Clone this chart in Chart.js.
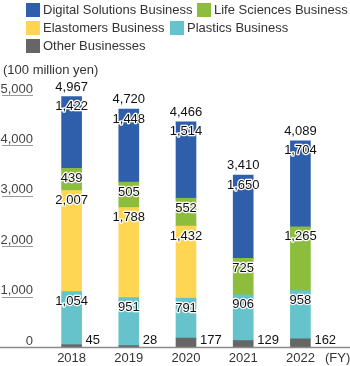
<!DOCTYPE html>
<html>
<head>
<meta charset="utf-8">
<script src="https://cdn.jsdelivr.net/npm/chart.js@4"></script>
<style>
  html, body { margin: 0; padding: 0; background: #fff; }
  #wrap { position: relative; width: 350px; height: 366px; font-family: "Liberation Sans", Arial, sans-serif; }
  #chart { position: absolute; left: 0; top: 0; }
  .leg { position: absolute; font-size: 13px; color: #333; line-height: 14px; white-space: nowrap; }
  .leg i { position: absolute; left: 0; top: 0; width: 14px; height: 14px; }
  .leg span { position: absolute; left: 17px; top: 0; }
  #unit { position: absolute; left: 3px; top: 62px; font-size: 13px; color: #333; }
</style>
</head>
<body>
<div id="wrap">
  <canvas id="chart" width="350" height="366"></canvas>
  <div id="legend"></div>
  <div id="unit">(100 million yen)</div>
</div>
<script>
// Данные
const years = ['2018', '2019', '2020', '2021', '2022'];
const digital = [1422, 1448, 1514, 1650, 1704];
const lifeSciences = [439, 505, 552, 725, 1265];
const elastomers = [2007, 1788, 1432, null, null];
const plastics = [1054, 951, 791, 906, 958];
const other = [45, 28, 177, 129, 162];
const totals = [4967, 4720, 4466, 3410, 4089];
const yTicks = [0, 1000, 2000, 3000, 4000, 5000];

const colors = {
    digital: '#2f5faa',
    life: '#8cbd3c',
    elastomers: '#ffd654',
    plastics: '#66c2cb',
    other: '#666666'
};

// Легенда (позиции как на картинке)
const legendItems = [
    { label: 'Digital Solutions Business', color: colors.digital, x: 26, y: 3 },
    { label: 'Life Sciences Business', color: colors.life, x: 197, y: 3 },
    { label: 'Elastomers Business', color: colors.elastomers, x: 26, y: 21 },
    { label: 'Plastics Business', color: colors.plastics, x: 170, y: 21 },
    { label: 'Other Businesses', color: colors.other, x: 26, y: 39 }
];
const legendEl = document.getElementById('legend');
legendItems.forEach(item => {
    const d = document.createElement('div');
    d.className = 'leg';
    d.style.left = item.x + 'px';
    d.style.top = item.y + 'px';
    d.innerHTML = '<i style="background:' + item.color + '"></i><span>' + item.label + '</span>';
    legendEl.appendChild(d);
});

const fmt = v => v.toLocaleString('en-US');
const FONT = '13px "Liberation Sans", Arial, sans-serif';

function haloText(ctx, text, x, y) {
    ctx.lineJoin = 'round';
    ctx.lineWidth = 2.5;
    ctx.strokeStyle = '#ffffff';
    ctx.strokeText(text, x, y);
    ctx.fillStyle = '#111';
    ctx.fillText(text, x, y);
}

const decorPlugin = {
    id: 'decor',
    afterDatasetsDraw(chart) {
        const ctx = chart.ctx;
        const xs = chart.scales.x;
        const ys = chart.scales.y;
        ctx.save();
        ctx.font = FONT;
        ctx.textBaseline = 'middle';

        // Ось Y: подписи с подчёркиванием
        yTicks.forEach(t => {
            const py = ys.getPixelForValue(t);
            ctx.fillStyle = '#444';
            ctx.textAlign = 'right';
            ctx.fillText(fmt(t), 33, py - 6);
            if (t > 0) {
                ctx.strokeStyle = '#9a9a9a';
                ctx.lineWidth = 1;
                ctx.beginPath();
                ctx.moveTo(2, Math.round(py) + 0.5);
                ctx.lineTo(33, Math.round(py) + 0.5);
                ctx.stroke();
            }
        });

        // Базовая линия
        const py0 = ys.getPixelForValue(0);
        ctx.strokeStyle = '#8a8a8a';
        ctx.lineWidth = 1.5;
        ctx.beginPath();
        ctx.moveTo(0, py0 + 0.5);
        ctx.lineTo(350, py0 + 0.5);
        ctx.stroke();

        // Подписи оси X
        ctx.fillStyle = '#333';
        ctx.textAlign = 'center';
        years.forEach((y, i) => {
            ctx.fillText(y, xs.getPixelForValue(i), 358);
        });
        ctx.textAlign = 'left';
        ctx.fillText('(FY)', 325, 358);

        // Подписи значений
        ctx.textAlign = 'center';
        chart.data.datasets.forEach((ds, di) => {
            const meta = chart.getDatasetMeta(di);
            meta.data.forEach((bar, i) => {
                const v = ds.data[i];
                if (v == null) return;
                if (ds.key === 'other') {
                    ctx.textAlign = 'left';
                    haloText(ctx, fmt(v), bar.x + bar.width / 2 + 4, 340);
                    ctx.textAlign = 'center';
                } else {
                    haloText(ctx, fmt(v), bar.x, bar.y + 10);
                }
            });
        });
        // Итоги над столбцами
        totals.forEach((t, i) => {
            haloText(ctx, fmt(t), xs.getPixelForValue(i), ys.getPixelForValue(t) - 9.5);
        });
        ctx.restore();
    }
};

new Chart(document.getElementById('chart'), {
    type: 'bar',
    data: {
        labels: years,
        datasets: [
            { key: 'other', label: 'Other Businesses', data: other, backgroundColor: colors.other },
            { key: 'plastics', label: 'Plastics Business', data: plastics, backgroundColor: colors.plastics },
            { key: 'elastomers', label: 'Elastomers Business', data: elastomers, backgroundColor: colors.elastomers },
            { key: 'life', label: 'Life Sciences Business', data: lifeSciences, backgroundColor: colors.life },
            { key: 'digital', label: 'Digital Solutions Business', data: digital, backgroundColor: colors.digital }
        ]
    },
    options: {
        responsive: false,
        animation: false,
        barThickness: 20,
        layout: { padding: { left: 43, right: 21, top: 95, bottom: 19 } },
        plugins: { legend: { display: false }, tooltip: { enabled: false } },
        scales: {
            x: { stacked: true, display: false },
            y: { stacked: true, display: false, min: 0, max: 5000 }
        }
    },
    plugins: [decorPlugin]
});
</script>
</body>
</html>
